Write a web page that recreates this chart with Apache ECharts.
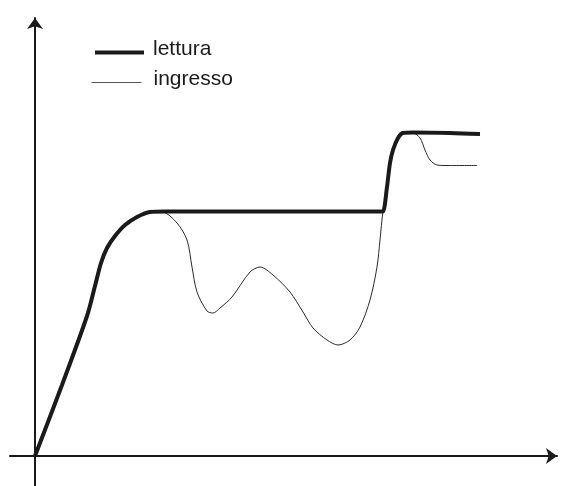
<!DOCTYPE html>
<html>
<head>
<meta charset="utf-8">
<script src="https://cdn.jsdelivr.net/npm/echarts@6/dist/echarts.min.js"></script>
<style>html,body{margin:0;padding:0;background:#fff}#c{width:563px;height:486px}</style>
</head>
<body>
<div id="c"></div>
<script>
// Series names
const seriesNames = ['lettura', 'ingresso'];
// lettura (thick line)
const letturaX = [0, 27, 52, 60, 66, 72, 80, 90, 102, 115, 130, 240, 346, 348, 352, 355, 358, 363, 368, 378, 415, 445];
const letturaY = [0, 71, 140, 170, 193, 208, 220, 231, 239, 244, 244.5, 244.5, 244.5, 244.5, 269, 293, 306, 318, 323, 323.5, 323, 322];
// ingresso (thin line)
const ingressoX = [0, 27, 52, 60, 66, 72, 80, 90, 102, 115, 127, 142, 152, 157, 162, 172, 178, 185, 197, 215, 225, 238, 255, 268, 278, 292, 303, 315, 325, 335, 342, 345, 348, 352, 355, 358, 363, 368, 378, 385, 390, 395, 402, 410, 442];
const ingressoY = [0, 71, 140, 170, 193, 208, 220, 231, 239, 244, 244, 233, 216, 189, 164, 145, 143, 148, 159, 184, 189, 181, 164, 144, 128, 116, 111, 116, 129, 156, 189, 216, 245, 269, 293, 306, 318, 323, 323, 318, 306, 296, 291, 290.5, 290.5];

const zip = (xs, ys) => xs.map((x, i) => [x, ys[i]]);

const chart = echarts.init(document.getElementById('c'));
const axisCommon = {
  type: 'value',
  axisLine: { show: true, onZero: true, symbol: ['none', 'arrow'], symbolSize: [12, 11], lineStyle: { color: '#1a1a1a', width: 2 } },
  axisTick: { show: false },
  axisLabel: { show: false },
  splitLine: { show: false }
};
function legendText(padLeft) {
  return {
    fontFamily: 'Liberation Sans', fontSize: 21, color: '#1a1a1a',
    rich: { t: { fontFamily: 'Liberation Sans', fontSize: 21, color: '#1a1a1a', lineHeight: 22, padding: [0, 0, 6, padLeft] } }
  };
}
chart.setOption({
  animation: false,
  backgroundColor: '#fff',
  grid: { left: 10, right: 6, top: 18, bottom: 0, containLabel: false },
  xAxis: Object.assign({}, axisCommon, { min: -25, max: 522 }),
  yAxis: Object.assign({}, axisCommon, { min: -30, max: 438 }),
  legend: [
    {
      data: [seriesNames[0]], left: 93, top: 39, padding: 0, itemWidth: 49, itemHeight: 14,
      formatter: '{t|{name}}',
      itemStyle: { opacity: 0, color: 'transparent', borderWidth: 0 },
      lineStyle: { width: 4, color: '#1a1a1a' },
      textStyle: legendText(4)
    },
    {
      data: [seriesNames[1]], left: 91, top: 69, padding: 0, itemWidth: 50, itemHeight: 14,
      formatter: '{t|{name}}',
      itemStyle: { opacity: 0, color: 'transparent', borderWidth: 0 },
      lineStyle: { width: 1, color: '#555' },
      textStyle: legendText(7)
    }
  ],
  series: [
    {
      name: seriesNames[1], type: 'line', data: zip(ingressoX, ingressoY), symbol: 'none', smooth: 0.3,
      lineStyle: { color: '#2a2a2a', width: 1 }, itemStyle: { color: '#2a2a2a' }, z: 2
    },
    {
      name: seriesNames[0], type: 'line', data: zip(letturaX, letturaY), symbol: 'none', smooth: 0.3,
      lineStyle: { color: '#1a1a1a', width: 4 }, itemStyle: { color: '#1a1a1a' }, z: 3
    }
  ]
});
</script>
</body>
</html>
